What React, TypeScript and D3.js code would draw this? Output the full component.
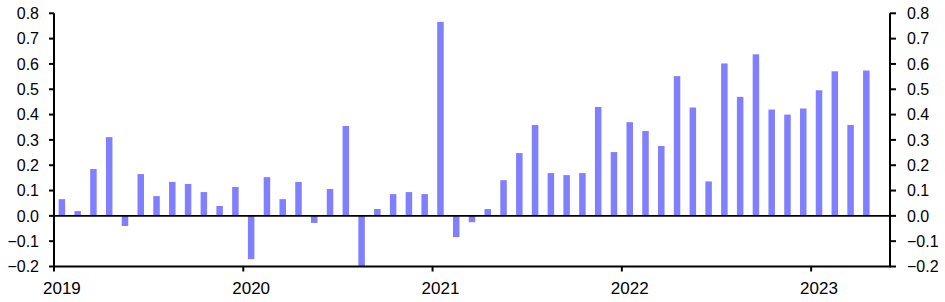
import React from "react";
import * as d3 from "d3";

const months: string[] = [
  "2019-01","2019-02","2019-03","2019-04","2019-05","2019-06","2019-07","2019-08","2019-09","2019-10","2019-11","2019-12",
  "2020-01","2020-02","2020-03","2020-04","2020-05","2020-06","2020-07","2020-08","2020-09","2020-10","2020-11","2020-12",
  "2021-01","2021-02","2021-03","2021-04","2021-05","2021-06","2021-07","2021-08","2021-09","2021-10","2021-11","2021-12",
  "2022-01","2022-02","2022-03","2022-04","2022-05","2022-06","2022-07","2022-08","2022-09","2022-10","2022-11","2022-12",
  "2023-01","2023-02","2023-03","2023-04",
];

const values: number[] = [
  0.066, 0.019, 0.185, 0.311, -0.04, 0.165, 0.078, 0.134, 0.126, 0.094, 0.039, 0.114,
  -0.171, 0.153, 0.066, 0.134, -0.028, 0.106, 0.355, -0.2, 0.027, 0.086, 0.094, 0.086,
  0.766, -0.084, -0.025, 0.027, 0.141, 0.248, 0.359, 0.169, 0.161, 0.169, 0.43, 0.252,
  0.37, 0.335, 0.276, 0.552, 0.428, 0.136, 0.602, 0.47, 0.638, 0.42, 0.4, 0.424,
  0.496, 0.571, 0.359, 0.574,
];

const yTicks: number[] = [-0.2, -0.1, 0.0, 0.1, 0.2, 0.3, 0.4, 0.5, 0.6, 0.7, 0.8];
const yearLabels: string[] = ["2019", "2020", "2021", "2022", "2023"];

export default function App() {
  const W = 945, H = 302;
  const left = 54, right = 890, top = 13.3, bottom = 266.5;
  const totalMonths = 53;
  const x = d3.scaleLinear().domain([0, totalMonths]).range([left, right]);
  const y = d3.scaleLinear().domain([-0.2, 0.8]).range([bottom, top]);
  const barW = 6.5;
  const font = "'Liberation Sans', Arial, sans-serif";
  const fmt = d3.format(".1f");

  return (
    <svg width={W} height={H} style={{ position: "absolute", left: 0, top: 0 }}>
      <rect width={W} height={H} fill="#fff" />
      {values.map((v, i) => {
        const cx = x(i + 0.5);
        const y0 = y(0), y1 = y(v);
        return (
          <rect key={months[i]} x={cx - barW / 2} y={Math.min(y0, y1)} width={barW}
            height={Math.abs(y1 - y0)} fill="#8080FF" />
        );
      })}
      {/* zero line */}
      <line x1={left} x2={right} y1={y(0)} y2={y(0)} stroke="#000" strokeWidth={1.8} />
      {/* axes */}
      <line x1={left} x2={left} y1={top} y2={bottom} stroke="#000" strokeWidth={2} />
      <line x1={right} x2={right} y1={top} y2={bottom} stroke="#000" strokeWidth={2} />
      <line x1={left - 1} x2={right + 1} y1={bottom} y2={bottom} stroke="#000" strokeWidth={2} />
      {yTicks.map((t) => (
        <g key={t}>
          <line x1={left - 5} x2={left} y1={y(t)} y2={y(t)} stroke="#000" strokeWidth={2} />
          <line x1={right} x2={right + 6} y1={y(t)} y2={y(t)} stroke="#000" strokeWidth={2} />
          <text x={39} y={y(t)} dy="0.36em" textAnchor="end" fontFamily={font} fontSize={16} fill="#000">
            {fmt(t)}
          </text>
          <text x={907} y={y(t)} dy="0.36em" textAnchor="start" fontFamily={font} fontSize={16} fill="#000">
            {fmt(t)}
          </text>
        </g>
      ))}
      {yearLabels.map((yr, k) => {
        const idx = k * 12;
        return (
          <g key={yr}>
            <line x1={x(idx)} x2={x(idx)} y1={bottom} y2={bottom + 5} stroke="#000" strokeWidth={2} />
            <text x={x(idx + 0.5)} y={294} textAnchor="middle" fontFamily={font} fontSize={17} fill="#000">
              {yr}
            </text>
          </g>
        );
      })}
    </svg>
  );
}
